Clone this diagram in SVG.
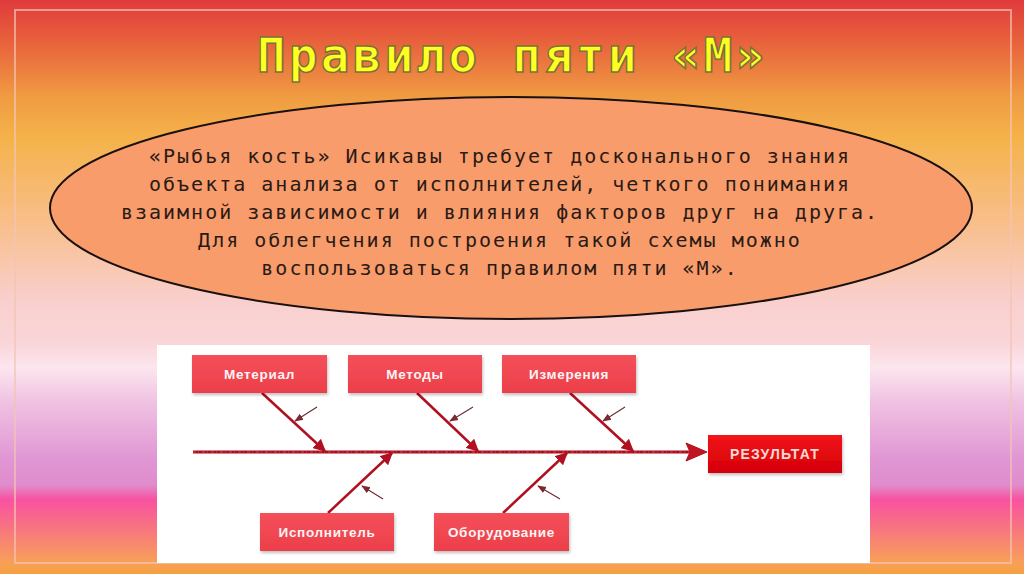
<svg xmlns="http://www.w3.org/2000/svg" width="1024" height="574" viewBox="0 0 1024 574">
  <defs>
    <linearGradient id="bg" x1="0" y1="0" x2="0" y2="1">
      <stop offset="0" stop-color="#e03a3c"/>
      <stop offset="0.07" stop-color="#e8603c"/>
      <stop offset="0.17" stop-color="#f09c42"/>
      <stop offset="0.24" stop-color="#f5b24a"/>
      <stop offset="0.4" stop-color="#f8c090"/>
      <stop offset="0.52" stop-color="#f9cfcc"/>
      <stop offset="0.6" stop-color="#fad6da"/>
      <stop offset="0.64" stop-color="#fce6ee"/>
      <stop offset="0.7" stop-color="#f0c2e2"/>
      <stop offset="0.8" stop-color="#e096d4"/>
      <stop offset="0.845" stop-color="#e08ccc"/>
      <stop offset="0.87" stop-color="#f852a0"/>
      <stop offset="0.92" stop-color="#f87480"/>
      <stop offset="0.98" stop-color="#f8a058"/>
      <stop offset="1" stop-color="#f5a040"/>
    </linearGradient>
    <linearGradient id="boxg" x1="0" y1="0" x2="0" y2="1">
      <stop offset="0" stop-color="#f4505a"/>
      <stop offset="1" stop-color="#ec3e4a"/>
    </linearGradient>
    <linearGradient id="resg" x1="0" y1="0" x2="0" y2="1">
      <stop offset="0" stop-color="#f21414"/>
      <stop offset="1" stop-color="#d4000e"/>
    </linearGradient>
    <marker id="bone" viewBox="0 0 10 10" refX="9" refY="5" markerWidth="5" markerHeight="5" orient="auto" markerUnits="strokeWidth">
      <path d="M0,0 L10,5 L0,10 z" fill="#b01020"/>
    </marker>
    <marker id="thin" viewBox="0 0 10 10" refX="9" refY="5" markerWidth="8" markerHeight="8" orient="auto" markerUnits="strokeWidth">
      <path d="M0,1 L10,5 L0,9 z" fill="#7a2a30"/>
    </marker>
    <filter id="sh" x="-10%" y="-10%" width="130%" height="140%">
      <feDropShadow dx="1" dy="2" stdDeviation="1.5" flood-color="#000" flood-opacity="0.25"/>
    </filter>
  </defs>
  <style>
    .body { font-family: "DejaVu Sans Mono", monospace; font-size: 20px; letter-spacing: 2px; fill: #2a1a14; text-anchor: middle; }
    .title { font-family: "DejaVu Sans Mono", monospace; font-weight: bold; font-size: 48px; letter-spacing: 3px; fill: #ffff22; stroke: #7a7438; stroke-width: 1.5; text-anchor: middle; }
    .box { fill: url(#boxg); filter: url(#sh); }
    .lbl { font-family: "Liberation Sans", Arial, sans-serif; font-weight: bold; font-size: 13.5px; fill: #fbf4f4; text-anchor: middle; letter-spacing: 0.7px; }
    .bone { stroke: #b01020; stroke-width: 2.5; fill: none; marker-end: url(#bone); }
    .thin { stroke: #6a2a30; stroke-width: 1.1; fill: none; marker-end: url(#thin); }
  </style>

  <rect x="0" y="0" width="1024" height="574" fill="url(#bg)"/>
  <rect x="15" y="10" width="996" height="553" fill="none" stroke="#f4c4b4" stroke-width="1.5" opacity="0.9"/>

  <g id="title">
    <text class="title" x="512" y="72">Правило пяти «М»</text>
  </g>

  <g id="ellipse">
    <ellipse cx="511" cy="208" rx="461" ry="111" fill="#f89c6c" stroke="#1a1010" stroke-width="2"/>
    <text class="body" x="500" y="163">«Рыбья кость» Исикавы требует досконального знания</text>
    <text class="body" x="500" y="191">объекта анализа от исполнителей, четкого понимания</text>
    <text class="body" x="500" y="219">взаимной зависимости и влияния факторов друг на друга.</text>
    <text class="body" x="500" y="247">Для облегчения построения такой схемы можно</text>
    <text class="body" x="500" y="275">воспользоваться правилом пяти «М».</text>
  </g>

  <rect id="panel" x="157" y="345" width="713" height="218" fill="#ffffff"/>

  <g id="connectors">
    <line x1="193" y1="452" x2="692" y2="452" stroke="#a80e1c" stroke-width="3.2"/>
    <line x1="193" y1="452" x2="692" y2="452" stroke="#d84050" stroke-width="1" stroke-dasharray="3 2 1 3"/>
    <path d="M686,443 L707,452 L686,461 L690,452 z" fill="#c01424" stroke="#b01020" stroke-width="1"/>
    <line class="bone" x1="262" y1="393" x2="325" y2="451"/>
    <line class="bone" x1="417" y1="393" x2="478" y2="451"/>
    <line class="bone" x1="570" y1="393" x2="633" y2="451"/>
    <line class="bone" x1="328" y1="513" x2="392" y2="453"/>
    <line class="bone" x1="503" y1="513" x2="567" y2="453"/>
    <line class="thin" x1="317" y1="407" x2="295" y2="421"/>
    <line class="thin" x1="473" y1="407" x2="450" y2="421"/>
    <line class="thin" x1="625" y1="407" x2="603" y2="421"/>
    <line class="thin" x1="383" y1="499" x2="362" y2="486"/>
    <line class="thin" x1="560" y1="499" x2="538" y2="486"/>
  </g>

  <g id="node-material">
    <rect class="box" x="192" y="355" width="135" height="38"/>
    <text class="lbl" x="259.5" y="379">Метериал</text>
  </g>
  <g id="node-methods">
    <rect class="box" x="348" y="355" width="134" height="38"/>
    <text class="lbl" x="415" y="379">Методы</text>
  </g>
  <g id="node-measure">
    <rect class="box" x="502" y="355" width="134" height="38"/>
    <text class="lbl" x="569" y="379">Измерения</text>
  </g>
  <g id="node-executor">
    <rect class="box" x="260" y="513" width="134" height="38"/>
    <text class="lbl" x="327" y="537">Исполнитель</text>
  </g>
  <g id="node-equipment">
    <rect class="box" x="434" y="513" width="135" height="38"/>
    <text class="lbl" x="501.5" y="537">Оборудование</text>
  </g>
  <g id="node-result">
    <rect x="708" y="435" width="134" height="38" fill="url(#resg)" filter="url(#sh)"/>
    <text class="lbl" x="775" y="459" style="font-size:14px;letter-spacing:1.2px;fill:#fbd8d8">РЕЗУЛЬТАТ</text>
  </g>
</svg>
